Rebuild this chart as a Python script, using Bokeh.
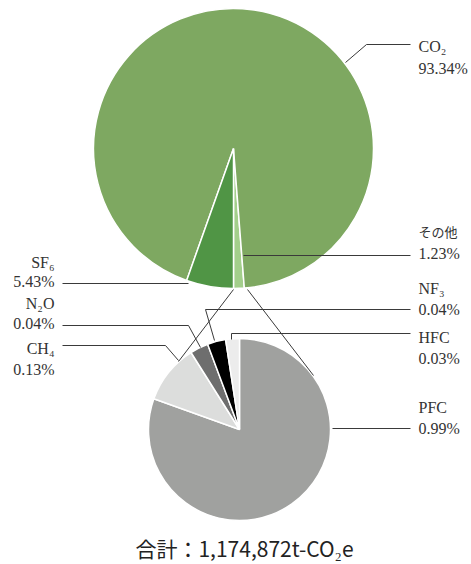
import numpy as np
from bokeh.plotting import figure
from bokeh.models import Range1d
from bokeh.core.properties import value
from bokeh.embed import file_html
from bokeh.resources import INLINE

# ---- data ----
top_labels = ["その他", "CO₂", "SF₆"]
top_values = [1.23, 93.34, 5.43]
top_colors = ["#a3cf8b", "#7ea861", "#509545"]

sub_labels = ["PFC", "CH₄", "N₂O", "NF₃", "HFC"]
sub_values = [0.99, 0.13, 0.04, 0.04, 0.03]
sub_colors = ["#a0a19f", "#dcdddc", "#6e6e6e", "#000000", "#ececec"]

total_text = "合計：1,174,872t-CO₂e"

# ---- layout (pixel space; y measured from top of window) ----
W, H = 471, 564
def Y(py):
    return H - py

p = figure(width=W, height=H, output_backend="svg", toolbar_location=None,
           x_range=Range1d(0, W), y_range=Range1d(0, H),
           min_border=0)
p.axis.visible = False
p.grid.visible = False
p.outline_line_color = None
p.background_fill_color = "white"

# top pie
tcx, tcy, tr = 233, 148, 140
tv = np.array(top_values)
tcum = np.concatenate([[0], np.cumsum(tv)]) / tv.sum() * 360.0
t_start = -90 + tcum[:-1]
t_end = -90 + tcum[1:]
p.wedge(x=[tcx] * 3, y=[Y(tcy)] * 3, radius=tr, start_angle=t_start, end_angle=t_end,
        start_angle_units="deg", end_angle_units="deg", radius_units="data",
        fill_color=top_colors, line_color="white", line_width=1.5)

# bottom pie
bcx, bcy, br = 239, 429, 91
sv = np.array(sub_values)
scum = np.concatenate([[0], np.cumsum(sv)]) / sv.sum() * 360.0
s_start = 90 - scum[:-1]
s_end = 90 - scum[1:]
p.wedge(x=[bcx] * 5, y=[Y(bcy)] * 5, radius=br, start_angle=s_start, end_angle=s_end,
        direction="clock", start_angle_units="deg", end_angle_units="deg", radius_units="data",
        fill_color=sub_colors, line_color="white", line_width=1.5)

# leader lines
leaders = [
    [(345, 62), (366, 44), (410, 44)],            # CO2
    [(243, 255), (410, 255)],                      # その他
    [(410, 309), (205, 309), (214, 340)],          # NF3
    [(410, 333), (231, 333), (231, 339)],          # HFC
    [(332, 428), (410, 428)],                      # PFC
    [(62, 283), (188, 283)],                       # SF6
    [(62, 325), (188, 325), (200, 347)],           # N2O
    [(62, 345), (165, 345), (178, 360)],           # CH4
    [(233, 289), (178, 361)],                      # connector left
    [(247, 289), (313, 375)],                      # connector right
]
p.multi_line(xs=[[a for a, b in L] for L in leaders],
             ys=[[Y(b) for a, b in L] for L in leaders],
             line_color="#3a3a3a", line_width=1)

lab_font = value("'Liberation Serif', 'Noto Sans CJK JP'")
vals = dict(zip(top_labels + sub_labels, top_values + sub_values))
right = [("CO₂", 46, 68), ("その他", 231, 253), ("NF₃", 288, 309),
         ("HFC", 337, 358), ("PFC", 407, 428)]
left = [("SF₆", 262, 281), ("N₂O", 303, 323), ("CH₄", 348, 369)]

for names, xpos, align in [(right, 418, "left"), (left, 54, "right")]:
    xs, ys, ts = [], [], []
    for n, y1, y2 in names:
        if n != "その他":
            xs.append(xpos); ys.append(Y(y1)); ts.append(n)
        xs.append(xpos); ys.append(Y(y2)); ts.append(f"{vals[n]:.2f}%")
    p.text(x=xs, y=ys, text=ts, text_font=lab_font, text_font_size="16px",
           text_align=align, text_baseline="middle", text_color="#333333")

p.text(x=[418], y=[Y(231)], text=["その他"], text_font=value("Noto Sans CJK JP"),
       text_font_size="13px", text_align="left", text_baseline="middle",
       text_color="#333333")

p.text(x=[244], y=[Y(547)], text=[total_text], text_font=value("Noto Sans CJK JP"),
       text_font_size="21px", text_align="center", text_baseline="middle",
       text_color="#222222")

open("out.html", "w").write(file_html(p, INLINE))
